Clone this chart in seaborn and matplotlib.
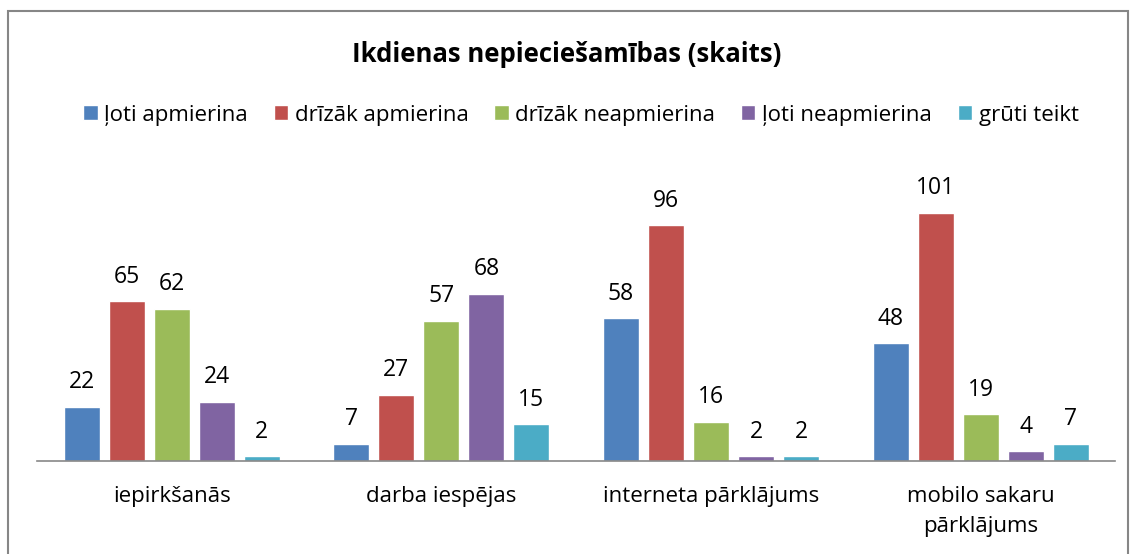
import matplotlib
matplotlib.use("Agg")
import matplotlib.pyplot as plt
from matplotlib.patches import Rectangle
import seaborn as sns
import pandas as pd

categories = ["iepirkšanās", "darba iespējas", "interneta pārklājums",
              "mobilo sakaru\npārklājums"]
series = ["ļoti apmierina", "drīzāk apmierina", "drīzāk neapmierina",
          "ļoti neapmierina", "grūti teikt"]
loti_apm = [22, 7, 58, 48]
drizak_apm = [65, 27, 96, 101]
drizak_neapm = [62, 57, 16, 19]
loti_neapm = [24, 68, 2, 4]
gruti = [2, 15, 2, 7]

colors = ["#4F81BD", "#C0504D", "#9BBB59", "#8064A2", "#4BACC6"]

values = [loti_apm, drizak_apm, drizak_neapm, loti_neapm, gruti]
rows = []
for s, vals in zip(series, values):
    for c, v in zip(categories, vals):
        rows.append({"cat": c, "series": s, "count": v})
df = pd.DataFrame(rows)

sns.set_style("white")
plt.rcParams["font.family"] = ["Open Sans", "DejaVu Sans"]
plt.rcParams["text.color"] = "black"

fig = plt.figure(figsize=(11.34, 5.54), dpi=100)
ax = fig.add_axes([0.0326, 0.168, 0.951, 0.532])

sns.barplot(data=df, x="cat", y="count", hue="series", order=categories,
            hue_order=series, palette=colors, width=0.835, gap=0.2,
            saturation=1, ax=ax, legend=True)

for cont in ax.containers:
    ax.bar_label(cont, padding=9, fontsize=16.5, color="black")

ax.set_ylim(0, 120)
ax.set_xlim(-0.5, 3.5)
ax.set_xlabel("")
ax.set_ylabel("")
ax.set_yticks([])
ax.tick_params(axis="x", length=0, labelsize=16, pad=18, labelcolor="black")
for lbl in ax.get_xticklabels():
    lbl.set_linespacing(1.55)
for side in ["top", "left", "right"]:
    ax.spines[side].set_visible(False)
ax.spines["bottom"].set_color("#878787")
ax.spines["bottom"].set_linewidth(1.2)

leg = ax.legend(loc="center", ncol=5, frameon=False, fontsize=16,
                handlelength=0.65, handleheight=0.65, handletextpad=0.3,
                columnspacing=1.15)
leg.set_bbox_to_anchor((0.5 + 14 / 1134, 1 - 115 / 554), transform=fig.transFigure)

fig.text(0.5, 1 - 54 / 554, "Ikdienas nepieciešamības (skaits)",
         ha="center", va="center", fontsize=18.5, fontweight="bold")

fig.patches.append(Rectangle((8 / 1134, -0.05), 1120 / 1134, 1.05 - 11 / 554,
                             transform=fig.transFigure, fill=False,
                             edgecolor="#868686", linewidth=1.5))

fig.savefig("out.png", dpi=100)
